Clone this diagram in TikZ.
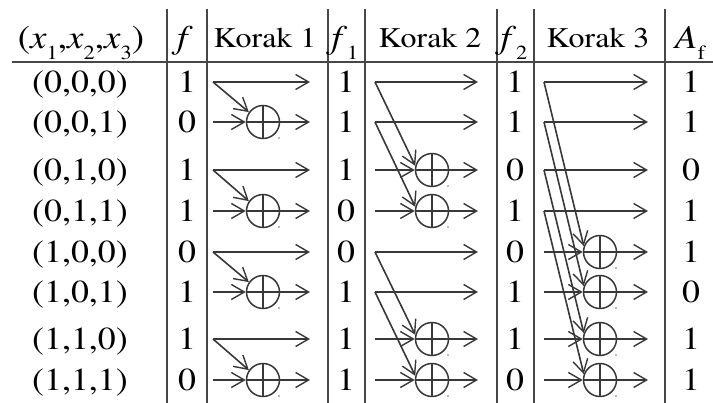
\documentclass[tikz,border=0pt]{standalone}
\usepackage{fontspec}
\setmainfont{texgyretermes}[Extension=.otf, UprightFont=*-regular,
  ItalicFont=*-italic, BoldFont=*-bold, BoldItalicFont=*-bolditalic]
\usetikzlibrary{arrows.meta}
% lowered subscript in the header row
\newcommand\lowsub[1]{\raisebox{-11pt}{\fontsize{20}{20}\selectfont #1}}
% wider setting of the cell text
\newcommand\wide[1]{\scalebox{1.12}[1]{#1}}
\begin{document}
\begin{tikzpicture}[x=1pt,y=-1pt,
  rule/.style={draw=black!72, line width=1.9pt},
  wire/.style={draw=black!78, line width=1.6pt,
    -{Straight Barb[length=13pt,width=15pt,line width=1.4pt]}},
  xor/.style={circle, draw=black!78, line width=1.5pt, minimum size=33pt,
    inner sep=0pt,
    path picture={\draw[black!78, line width=1.5pt]
      (path picture bounding box.north) -- (path picture bounding box.south)
      (path picture bounding box.west) -- (path picture bounding box.east);}},
  val/.style={anchor=base, inner sep=0pt, font=\fontsize{32}{32}\selectfont},
  hdr/.style={anchor=base, inner sep=0pt, font=\fontsize{33}{33}\selectfont},
  kor/.style={anchor=base, inner sep=0pt, font=\fontsize{28.5}{28.5}\selectfont},
  dot/.style={fill=black!55}]
\useasboundingbox (0,0) rectangle (713,403);

% table rules
\draw[rule] (12,62) -- (713,62);
\foreach \xv in {167,207,328,365,497,534,665}
  \draw[rule] (\xv,9) -- (\xv,403);

% header row
\node[hdr] (h0) at (81,49) {\wide{(\textit{x}\lowsub{1},\textit{x}\lowsub{2},\textit{x}\lowsub{3})}};
\node[hdr] (h1) at (185,49) {\wide{\textit{f}}};
\node[kor] (h2) at (265,48) {\wide{Korak 1}};
\node[hdr] (h3) at (345,49) {\wide{\textit{f}\lowsub{1}}};
\node[kor] (h4) at (430,48) {\wide{Korak 2}};
\node[hdr] (h5) at (514,49) {\wide{\textit{f}\lowsub{2}}};
\node[kor] (h6) at (598,48) {\wide{Korak 3}};
\node[hdr] (h7) at (690,49) {\wide{\textit{A}\lowsub{f}}};

% values and wire end points of every row
\foreach \r/\y/\xx/\f/\fa/\fb/\af in {
    1/82/{(0,0,0)}/1/1/1/1, 2/122/{(0,0,1)}/0/1/1/1,
    3/170/{(0,1,0)}/1/1/0/0, 4/211/{(0,1,1)}/1/0/1/1,
    5/252/{(1,0,0)}/0/0/0/1, 6/292/{(1,0,1)}/1/1/1/0,
    7/339/{(1,1,0)}/1/1/1/1, 8/380/{(1,1,1)}/0/1/0/1} {
  \node[val] (c0-\r) at (80,\y+11) {\wide{\xx}};
  \node[val] (c1-\r) at (187,\y+11) {\wide{\f}};
  \node[val] (c2-\r) at (346,\y+11) {\wide{\fa}};
  \node[val] (c3-\r) at (515,\y+11) {\wide{\fb}};
  \node[val] (c4-\r) at (691,\y+11) {\wide{\af}};
  \coordinate (p1-\r) at (213,\y); \coordinate (q1-\r) at (310,\y);
  \coordinate (p2-\r) at (375,\y); \coordinate (q2-\r) at (478,\y);
  \coordinate (p3-\r) at (544,\y); \coordinate (q3-\r) at (648,\y);
}

% XOR gates
\foreach \r/\y in {2/122,4/211,6/292,8/380} \node[xor] (x1-\r) at (263,\y) {};
\foreach \r/\y in {3/170,4/211,7/339,8/380} \node[xor] (x2-\r) at (432,\y) {};
\foreach \r/\y in {5/252,6/292,7/339,8/380} \node[xor] (x3-\r) at (600,\y) {};

% Korak 1
\foreach \r in {1,3,5,7} \draw[wire] (p1-\r) -- (q1-\r);
\foreach \s/\r in {1/2,3/4,5/6,7/8} {
  \draw[wire] (p1-\r) -- (x1-\r.west);
  \draw[wire] (x1-\r.east) -- (q1-\r);
  \draw[wire] (p1-\s) -- (x1-\r.145);
  \fill[dot] (x1-\r) ++(16,16) circle (0.9);
}

% Korak 2
\foreach \r in {1,2,5,6} \draw[wire] (p2-\r) -- (q2-\r);
\foreach \s/\r in {1/3,2/4,5/7,6/8} {
  \draw[wire] (p2-\r) -- (x2-\r.west);
  \draw[wire] (x2-\r.east) -- (q2-\r);
  \draw[wire] (p2-\s) -- (x2-\r.166);
  \fill[dot] (x2-\r) ++(16,16) circle (0.9);
}

% Korak 3
\foreach \r in {1,2,3,4} \draw[wire] (p3-\r) -- (q3-\r);
\foreach \s/\r in {1/5,2/6,3/7,4/8} {
  \draw[wire] (p3-\r) -- (x3-\r.west);
  \draw[wire] (x3-\r.east) -- (q3-\r);
  \draw[wire] (p3-\s) -- (x3-\r.160);
  \fill[dot] (x3-\r) ++(16,16) circle (0.9);
}
\end{tikzpicture}
\end{document}
